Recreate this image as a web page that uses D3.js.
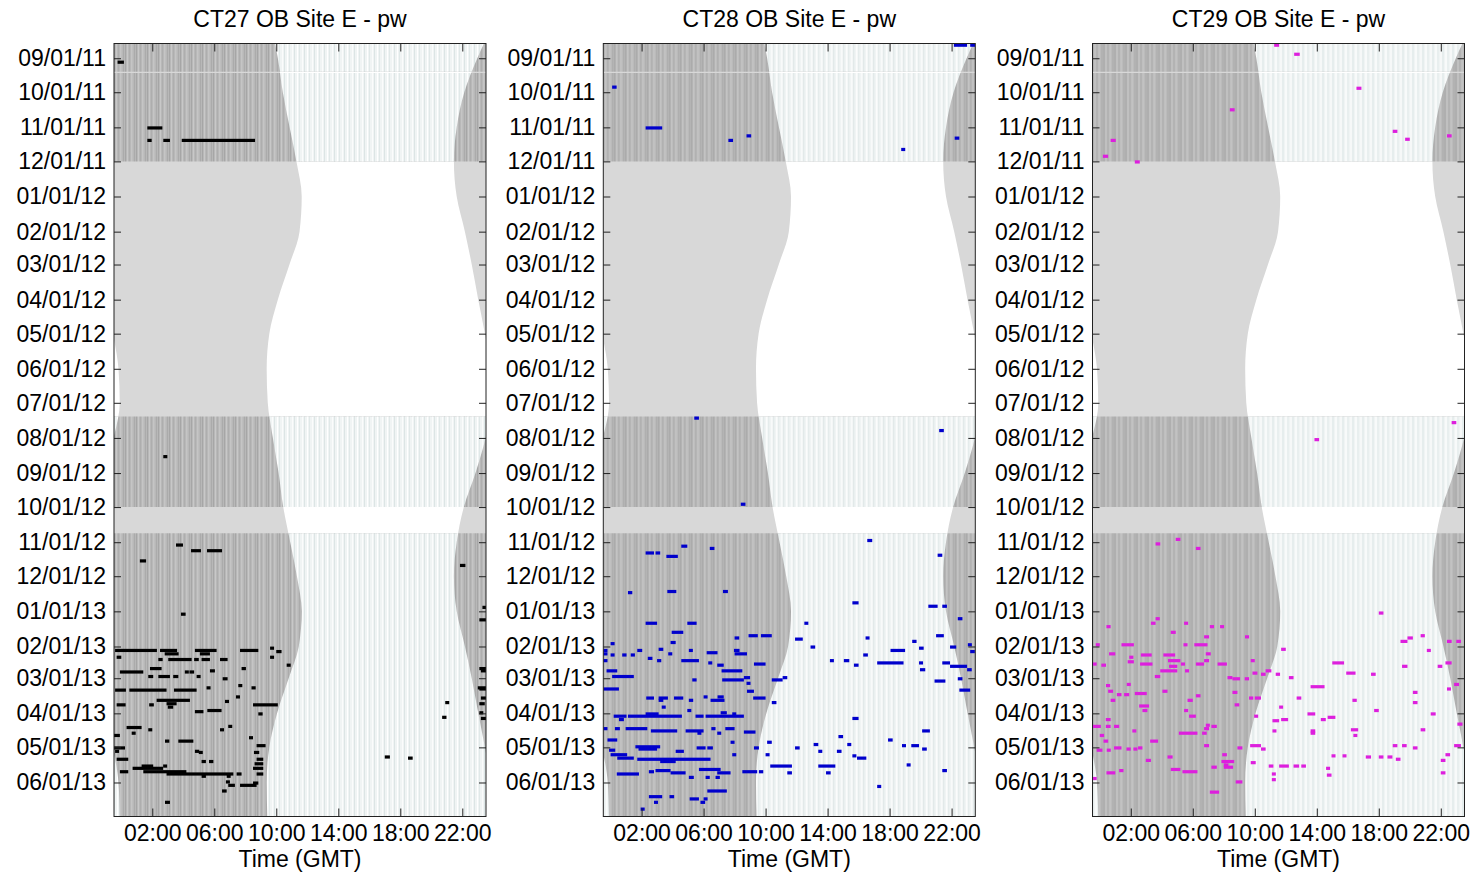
<!DOCTYPE html>
<html><head><meta charset="utf-8">
<script src="https://cdn.jsdelivr.net/npm/d3@7"></script>
<style>body{margin:0;background:#fff} text{font-family:"Liberation Sans",Arial,Helvetica,sans-serif}</style>
</head><body><svg id="c" width="1480" height="882"></svg>
<script>
// ---------------- data ----------------
const panelTitles = ["CT27 OB Site E - pw", "CT28 OB Site E - pw", "CT29 OB Site E - pw"];
const panelColors = ["#000000", "#0000cc", "#dd1fdd"];
const xTickHours = [2, 6, 10, 14, 18, 22];
const yTickDates = ["2011-09-01","2011-10-01","2011-11-01","2011-12-01","2012-01-01","2012-02-01","2012-03-01",
  "2012-04-01","2012-05-01","2012-06-01","2012-07-01","2012-08-01","2012-09-01","2012-10-01","2012-11-01",
  "2012-12-01","2013-01-01","2013-02-01","2013-03-01","2013-04-01","2013-05-01","2013-06-01"];
const effortPeriods = [["2011-08-19","2011-09-13"],["2011-09-14","2011-12-01"],["2012-07-13","2012-10-01"],["2012-10-24","2013-07-01"]];
// sunrise / sunset (hours GMT on the displayed axis)
const sunDates = ["2011-08-19","2011-09-01","2011-10-01","2011-11-01","2011-12-01","2012-01-01","2012-02-01","2012-03-01",
  "2012-04-01","2012-05-01","2012-06-01","2012-07-01","2012-08-01","2012-09-01","2012-10-01","2012-11-01","2012-12-01",
  "2013-01-01","2013-02-01","2013-03-01","2013-04-01","2013-05-01","2013-06-01","2013-07-01"];
const sunriseHours = [9.92,10.1,10.42,10.86,11.3,11.64,11.5,10.85,10.1,9.55,9.38,9.45,9.78,10.15,10.45,10.9,11.33,11.64,11.45,10.8,10.05,9.55,9.38,9.42];
const sunsetHours  = [23.4,22.97,22.13,21.64,21.46,21.64,22.17,22.61,23.03,23.46,23.82,23.9,23.5,22.85,22.1,21.64,21.46,21.64,22.17,22.61,23.03,23.46,23.82,23.9];

// detections: [date, start hour, end hour]
const ct27 = [
["2011-09-04",-0.24,0.17],["2011-11-01",1.68,2.65],["2011-11-12",1.68,1.96],["2011-11-12",2.71,3.14],["2011-11-12",3.9,8.63],
["2012-08-17",2.71,2.97],["2012-11-03",3.53,3.98],["2012-11-08",4.5,5.14],["2012-11-08",5.53,6.5],["2012-11-17",1.2,1.6],
["2012-11-21",21.85,22.2],["2012-12-28",23.3,23.53],["2013-01-03",3.85,4.15],["2013-01-08",23.1,23.53],
["2013-02-04",-0.4,2.3],["2013-02-04",2.5,3.6],["2013-02-04",4.75,6.15],["2013-02-04",7.66,8.84],["2013-02-02",9.6,9.85],
["2013-02-05",10.0,10.34],["2013-02-07",2.8,3.7],["2013-02-07",5.07,5.72],["2013-02-10",-0.3,0.0],["2013-02-10",9.6,9.85],
["2013-02-12",2.39,2.67],["2013-02-12",3.03,4.54],["2013-02-12",4.7,5.0],["2013-02-12",5.18,5.72],["2013-02-12",6.37,6.86],
["2013-02-17",10.67,10.9],["2013-02-20",1.85,2.6],["2013-02-20",7.76,8.04],["2013-02-22",5.72,6.04],
["2013-02-23",-0.09,1.42],["2013-02-23",4.1,4.3],["2013-02-23",4.4,4.7],
["2013-02-27",1.74,2.06],["2013-02-27",2.39,3.14],["2013-02-27",3.35,3.68],["2013-02-27",4.86,5.07],
["2013-03-01",6.54,6.86],["2013-03-07",7.55,7.76],["2013-03-09",5.5,5.76],["2013-03-09",8.4,8.67],
["2013-03-11",-0.4,0.3],["2013-03-11",0.52,2.92],["2013-03-11",3.4,4.86],["2013-03-17",7.4,7.6],["2013-03-20",2.28,4.43],
["2013-03-21",6.69,6.95],["2013-03-22",20.9,21.15],["2013-03-23",2.92,3.57],["2013-03-24",-0.3,0.28],["2013-03-24",1.8,2.1],
["2013-03-24",8.5,10.1],["2013-03-26",3.0,3.35],["2013-03-29",5.55,6.47],["2013-03-30",4.75,5.3],["2013-04-01",8.84,9.12],
["2013-04-04",20.7,20.98],["2013-04-12",6.9,7.1],["2013-04-13",0.34,1.31],["2013-04-15",6.37,6.62],["2013-04-15",1.74,1.96],
["2013-04-18",0.67,0.88],["2013-04-20",-0.47,-0.09],["2013-04-22",8.24,8.47],["2013-04-25",2.82,3.1],["2013-04-25",3.68,4.65],
["2013-04-29",8.73,9.31],["2013-05-01",-0.47,0.24],["2013-05-04",4.75,5.03],["2013-05-04",-0.4,-0.2],["2013-05-05",5.0,5.25],
["2013-05-05",8.56,8.9],["2013-05-09",17.0,17.33],["2013-05-10",18.5,18.8],["2013-05-11",-0.3,0.45],["2013-05-11",8.73,9.16],
["2013-05-13",5.18,5.46],["2013-05-13",5.66,5.94],["2013-05-15",8.6,9.16],["2013-05-17",1.31,2.06],["2013-05-17",2.7,2.92],
["2013-05-19",0.73,2.7],["2013-05-19",8.5,9.16],["2013-05-22",-0.09,0.45],["2013-05-22",1.42,4.2],
["2013-05-24",2.92,7.23],["2013-05-24",7.44,7.76],["2013-05-24",8.73,9.16],["2013-05-26",5.18,5.46],["2013-05-26",6.8,7.05],
["2013-05-31",6.75,6.95],["2013-06-01",8.5,8.84],["2013-06-03",6.9,7.33],["2013-06-03",7.66,8.73],["2013-06-08",6.5,6.8],
["2013-06-18",2.82,3.14],
["2013-02-20",23.1,23.53],["2013-02-22",23.2,23.53],["2013-03-09",23.0,23.53],["2013-03-10",23.1,23.53],["2013-03-18",23.2,23.53],
["2013-03-23",23.1,23.45],["2013-03-31",23.1,23.35],["2013-04-05",23.2,23.53]
];
const ct28 = [
["2011-08-20",22.15,23.0],["2011-08-20",23.2,23.53],["2011-09-26",0.1,0.39],["2011-11-01",2.26,3.33],["2011-11-08",8.77,9.07],
["2011-11-10",22.2,22.5],["2011-11-12",7.6,7.9],["2011-11-20",18.75,19.0],["2012-07-14",5.4,5.7],["2012-07-25",21.2,21.5],
["2012-09-28",8.4,8.7],
["2012-10-30",16.56,16.88],["2012-11-04",4.56,4.95],["2012-11-06",6.4,6.7],["2012-11-10",2.26,2.8],["2012-11-10",2.9,3.2],
["2012-11-12",21.1,21.4],["2012-11-13",3.6,4.34],["2012-12-14",3.66,4.24],["2012-12-14",7.25,7.57],["2012-12-15",1.12,1.4],
["2012-12-24",15.6,16.0],["2012-12-27",20.5,21.1],["2012-12-27",21.4,21.7],["2013-01-07",22.4,22.7],
["2013-01-11",2.26,3.0],["2013-01-11",4.95,5.55],["2013-01-11",12.5,12.75],["2013-01-19",3.94,4.69],
["2013-01-22",8.9,9.5],["2013-01-22",9.7,10.4],["2013-01-22",21.0,21.5],["2013-01-24",8.0,8.3],["2013-01-24",16.45,16.7],
["2013-01-25",11.9,12.4],["2013-01-27",19.46,19.74],["2013-01-28",3.87,4.2],["2013-01-29",0.0,0.26],["2013-01-30",23.05,23.3],
["2013-02-01",12.9,13.2],["2013-02-01",21.9,22.3],["2013-02-02",19.9,20.2],["2013-02-03",3.1,3.4],["2013-02-04",1.72,2.04],
["2013-02-04",-0.47,-0.2],["2013-02-04",5.05,5.27],["2013-02-04",18.06,19.0],["2013-02-04",7.96,8.32],["2013-02-05",23.2,23.5],
["2013-02-06",6.2,6.9],["2013-02-07",-0.47,-0.2],["2013-02-07",3.72,3.98],["2013-02-07",8.0,8.8],["2013-02-08",0.0,0.26],
["2013-02-08",0.75,1.03],["2013-02-08",1.3,1.57],["2013-02-08",16.3,16.6],["2013-02-11",2.4,2.7],["2013-02-13",3.0,3.27],
["2013-02-13",-0.47,-0.2],["2013-02-13",4.56,5.7],["2013-02-13",14.15,14.4],["2013-02-13",15.05,15.4],
["2013-02-15",17.2,18.9],["2013-02-15",19.9,20.1],["2013-02-15",21.4,21.9],["2013-02-15",6.3,6.56],["2013-02-16",9.25,10.0],
["2013-02-17",6.88,7.3],["2013-02-17",15.7,16.0],["2013-02-18",21.9,23.0],["2013-02-21",19.96,20.3],["2013-02-21",23.0,23.3],
["2013-02-22",-0.26,0.43],["2013-02-22",7.16,8.5],["2013-02-27",0.1,1.5],["2013-02-28",8.6,9.0],["2013-02-28",11.1,11.4],
["2013-03-01",22.4,22.7],["2013-03-02",7.2,8.6],["2013-03-02",5.27,5.55],["2013-03-02",10.4,11.1],["2013-03-03",20.9,21.6],
["2013-03-05",8.77,9.0],["2013-03-10",-0.47,0.54],["2013-03-11",22.5,23.2],["2013-03-12",8.8,9.25],["2013-03-17",6.0,6.24],
["2013-03-17",6.9,7.3],["2013-03-18",2.3,2.8],["2013-03-18",3.1,3.7],["2013-03-18",4.09,4.69],["2013-03-18",9.2,10.0],
["2013-03-20",5.05,5.33],["2013-03-20",6.45,7.35],["2013-03-20",3.1,3.4],["2013-03-22",10.4,10.7],["2013-03-26",3.3,3.5],
["2013-03-29",4.95,5.2],["2013-03-31",7.1,7.5],["2013-04-01",2.26,3.1],["2013-04-01",7.85,8.0],
["2013-04-03",0.2,1.03],["2013-04-03",1.12,4.6],["2013-04-03",5.48,6.0],["2013-04-03",6.13,8.6],["2013-04-05",15.6,16.0],
["2013-04-06",0.54,0.86],["2013-04-14",-0.47,-0.2],["2013-04-14",0.28,0.6],["2013-04-14",0.97,2.37],["2013-04-14",6.5,6.77],
["2013-04-14",7.4,8.0],["2013-04-16",2.6,4.3],["2013-04-16",4.84,6.0],["2013-04-16",20.1,20.6],["2013-04-17",8.6,9.35],
["2013-04-18",6.88,7.1],["2013-04-18",5.6,5.8],["2013-04-21",14.7,15.0],["2013-04-24",-0.2,0.43],["2013-04-24",17.9,18.2],
["2013-04-26",7.74,7.96],["2013-04-26",10.1,10.4],["2013-04-28",13.1,13.4],["2013-04-28",15.27,15.5],["2013-04-29",18.8,19.0],
["2013-04-29",19.4,19.9],["2013-04-30",1.6,3.2],["2013-05-01",5.55,6.13],["2013-05-01",6.24,6.6],["2013-05-01",9.25,9.57],
["2013-05-01",11.9,12.2],["2013-05-02",20.1,20.4],["2013-05-02",1.8,3.0],["2013-05-03",-0.1,0.3],["2013-05-04",14.6,14.9],
["2013-05-04",4.2,4.73],["2013-05-04",13.4,13.6],["2013-05-07",0.0,1.07],["2013-05-07",7.85,8.06],["2013-05-07",10.0,10.2],
["2013-05-08",15.6,15.85],["2013-05-10",0.43,1.5],["2013-05-10",15.9,16.5],["2013-05-11",1.72,6.45],["2013-05-13",3.2,4.2],
["2013-05-16",19.1,19.35],["2013-05-17",10.3,11.7],["2013-05-17",13.4,14.5],["2013-05-20",5.7,7.1],["2013-05-21",2.9,3.87],
["2013-05-21",21.4,21.7],["2013-05-22",2.47,2.8],["2013-05-22",8.5,9.46],["2013-05-22",9.57,9.85],["2013-05-23",3.87,4.84],
["2013-05-23",6.88,7.74],["2013-05-23",13.9,14.2],["2013-05-23",11.4,11.7],["2013-05-24",0.4,1.83],["2013-05-27",5.05,5.37],
["2013-05-27",6.13,6.4],["2013-05-27",6.77,7.05],["2013-06-04",17.2,17.46],["2013-06-08",6.24,7.5],["2013-06-13",2.47,3.33],
["2013-06-13",3.8,4.1],["2013-06-15",5.1,5.7],["2013-06-15",6.0,6.24],["2013-06-18",2.8,3.05],["2013-06-18",5.8,6.1],
["2013-06-24",1.94,2.2]
];
const ct29 = [
["2011-08-20",11.25,11.57],["2011-08-28",12.54,12.9],["2011-09-27",16.56,16.88],["2011-10-16",8.39,8.7],["2011-11-04",18.9,19.2],
["2011-11-08",22.4,22.7],["2011-11-11",19.7,20.0],["2011-11-12",0.7,1.03],["2011-11-26",0.2,0.54],["2011-12-01",2.26,2.58],
["2012-07-18",22.7,23.0],["2012-08-02",13.85,14.15],
["2012-10-29",4.9,5.2],["2012-11-02",3.6,3.9],["2012-11-06",6.2,6.5],["2013-01-02",18.0,18.3],["2013-01-07",3.6,3.87],
["2013-01-11",3.3,3.6],["2013-01-11",5.44,5.7],["2013-01-14",0.43,0.7],["2013-01-14",7.1,7.37],["2013-01-14",7.76,8.0],
["2013-01-19",4.58,4.9],["2013-01-22",20.7,20.97],["2013-01-23",6.73,7.05],["2013-01-23",9.37,9.63],["2013-01-24",19.85,20.2],
["2013-01-27",19.4,19.85],["2013-01-27",22.4,22.7],["2013-01-27",23.0,23.3],["2013-01-30",1.4,2.2],["2013-01-30",5.4,5.66],
["2013-01-30",6.1,6.95],["2013-01-30",-0.26,0.0],["2013-02-03",11.7,12.0],["2013-02-04",21.1,21.35],["2013-02-07",6.84,7.16],
["2013-02-07",0.6,1.0],["2013-02-08",2.65,3.35],["2013-02-08",4.1,4.86],["2013-02-10",1.9,2.17],["2013-02-13",4.4,5.2],
["2013-02-13",9.74,10.0],["2013-02-13",6.73,7.05],["2013-02-14",1.8,2.2],["2013-02-15",15.0,15.76],["2013-02-15",22.3,22.7],
["2013-02-16",-0.47,-0.2],["2013-02-16",2.6,3.4],["2013-02-16",5.23,5.5],["2013-02-16",6.2,6.73],["2013-02-16",7.6,8.2],
["2013-02-17",0.1,0.4],["2013-02-18",19.5,19.85],["2013-02-18",21.8,22.1],["2013-02-18",4.47,5.0],["2013-02-22",3.9,5.0],
["2013-02-22",5.5,5.76],["2013-02-22",10.7,11.07],["2013-02-24",9.85,10.17],["2013-02-24",15.9,16.5],["2013-02-25",10.4,10.7],
["2013-02-25",11.35,11.63],["2013-02-25",17.5,17.8],["2013-02-27",3.55,3.9],["2013-02-28",8.24,8.56],["2013-02-28",12.2,12.5],
["2013-03-01",8.56,9.05],["2013-03-01",9.35,9.63],["2013-03-06",1.74,2.0],["2013-03-06",22.86,23.18],["2013-03-07",0.4,0.67],
["2013-03-08",13.6,14.5],["2013-03-10",22.4,22.65],["2013-03-12",0.54,0.86],["2013-03-12",4.04,4.37],["2013-03-13",8.56,8.88],
["2013-03-13",20.2,20.5],["2013-03-14",2.26,3.03],["2013-03-15",1.1,1.4],["2013-03-15",1.57,1.9],["2013-03-16",6.2,6.5],
["2013-03-18",9.63,9.9],["2013-03-18",10.0,10.4],["2013-03-18",12.7,13.0],["2013-03-20",0.7,1.0],["2013-03-20",5.66,6.0],
["2013-03-20",16.3,16.58],["2013-03-22",20.2,20.5],["2013-03-24",8.7,9.0],["2013-03-25",2.54,3.18],["2013-03-26",11.57,11.8],
["2013-03-29",17.7,18.0],["2013-03-29",5.44,5.7],["2013-03-29",2.75,3.07],["2013-04-01",13.4,13.9],["2013-04-01",21.35,21.67],
["2013-04-03",5.76,6.2],["2013-04-03",9.96,10.2],["2013-04-04",14.7,15.2],["2013-04-06",0.39,0.7],["2013-04-06",11.7,12.15],
["2013-04-06",14.26,14.58],["2013-04-07",11.14,11.57],["2013-04-10",23.07,23.4],["2013-04-11",6.84,7.1],
["2013-04-12",-0.47,0.07],["2013-04-12",0.39,0.7],["2013-04-12",0.92,1.25],["2013-04-12",7.2,7.55],["2013-04-14",6.73,7.05],
["2013-04-15",16.2,16.67],["2013-04-15",20.7,21.0],["2013-04-16",2.1,2.3],["2013-04-16",11.14,11.35],["2013-04-16",13.6,13.9],
["2013-04-18",5.1,6.3],["2013-04-18",6.6,6.9],["2013-04-18",13.6,13.9],["2013-04-20",16.36,16.6],["2013-04-20",0.0,0.28],
["2013-04-25",0.24,0.54],["2013-04-25",3.25,3.76],["2013-04-29",6.73,7.05],["2013-04-29",9.7,10.4],["2013-04-29",18.9,19.2],
["2013-04-29",19.5,19.8],["2013-04-29",22.86,23.3],["2013-05-01",0.92,1.4],["2013-05-01",8.88,9.2],["2013-05-01",2.47,2.75],
["2013-05-01",20.2,20.5],["2013-05-02",1.72,2.0],["2013-05-02",2.17,2.43],["2013-05-02",10.4,10.7],["2013-05-03",-0.2,0.17],
["2013-05-03",0.45,0.7],["2013-05-07",7.9,8.2],["2013-05-07",22.3,22.6],["2013-05-08",14.95,15.2],["2013-05-08",15.66,15.9],
["2013-05-09",4.37,4.7],["2013-05-09",17.16,17.5],["2013-05-09",18.0,18.3],["2013-05-09",18.56,18.88],["2013-05-11",19.1,19.4],
["2013-05-12",2.97,3.3],["2013-05-12",22.0,22.3],["2013-05-13",7.85,8.67],["2013-05-14",9.74,10.06],["2013-05-16",8.0,8.3],
["2013-05-17",10.9,11.2],["2013-05-17",11.57,12.2],["2013-05-17",12.5,12.86],["2013-05-17",13.0,13.3],["2013-05-18",7.2,7.55],
["2013-05-18",8.0,8.6],["2013-05-19",14.6,14.8],["2013-05-20",4.58,5.2],["2013-05-21",1.25,1.53],["2013-05-22",5.33,6.3],
["2013-05-23",22.0,22.3],["2013-05-23",0.43,1.0],["2013-05-24",11.1,11.35],["2013-05-25",14.65,14.95],["2013-05-28",-0.47,-0.2],
["2013-05-29",11.1,11.35],["2013-05-31",8.77,9.2],["2013-06-09",7.1,7.7]
];
const panelData = [ct27, ct28, ct29];

// ---------------- drawing ----------------
const parse = d3.utcParse("%Y-%m-%d");
const svg = d3.select("#c");
const W = 372, H = 773, TOP = 43.5;
const FS = 23;
const lefts = [114, 603.3, 1092.5];
const x = d3.scaleLinear().domain([-0.47, 23.53]).range([0, W]);
const y = d3.scaleUtc().domain([parse("2011-08-19"), parse("2013-07-01")]).range([0, H]);
const fmt = d3.utcFormat("%m/%d/%y");

const defs = svg.append("defs");
defs.append("clipPath").attr("id", "plotClip").append("rect").attr("width", W).attr("height", H);
const ec = defs.append("clipPath").attr("id", "effortClip");
effortPeriods.forEach(p => {
  ec.append("rect").attr("x", 0).attr("width", W)
    .attr("y", y(parse(p[0]))).attr("height", y(parse(p[1])) - y(parse(p[0])));
});
function stripePattern(id, w, base, lines) {
  const p = defs.append("pattern").attr("id", id).attr("patternUnits", "userSpaceOnUse").attr("width", w).attr("height", 8);
  p.append("rect").attr("width", w).attr("height", 8).attr("fill", base);
  lines.forEach(l => p.append("rect").attr("x", l[0]).attr("width", l[1]).attr("height", 8).attr("fill", l[2]));
}
stripePattern("nightStripe", 11, "#b8b8b8", [[0,1,"#a6a6a6"],[2,1,"#c8c8c8"],[4,1,"#aeaeae"],[6,1.5,"#c5c5c5"],[9,1,"#ababab"]]);
stripePattern("dayStripe", 10, "#f0f4f4", [[0,1,"#dce5e5"],[3,1,"#ffffff"],[5,1,"#e1e9e9"],[8,1,"#fbfcfc"]]);

const sunRows = sunDates.map((d, i) => ({ date: parse(d), rise: sunriseHours[i], set: sunsetHours[i] }));
const dayArea = shift => d3.area().curve(d3.curveMonotoneY)
  .y(d => y(d.date)).x0(d => x(d.rise + shift)).x1(d => x(d.set + shift));

panelTitles.forEach((title, i) => {
  const g = svg.append("g").attr("transform", `translate(${lefts[i]},${TOP})`);
  const plot = g.append("g").attr("clip-path", "url(#plotClip)");
  plot.append("rect").attr("width", W).attr("height", H).attr("fill", "#d8d8d8");
  [0, -24].forEach(s => plot.append("path").datum(sunRows).attr("d", dayArea(s)).attr("fill", "#ffffff"));
  const eff = plot.append("g").attr("clip-path", "url(#effortClip)");
  eff.append("rect").attr("width", W).attr("height", H).attr("fill", "url(#nightStripe)");
  [0, -24].forEach(s => eff.append("path").datum(sunRows).attr("d", dayArea(s)).attr("fill", "url(#dayStripe)"));

  plot.append("g").selectAll("rect").data(panelData[i]).join("rect")
    .attr("x", d => x(d[1]))
    .attr("width", d => Math.max(x(d[2]) - x(d[1]), 4))
    .attr("y", d => y(d3.utcHour.offset(parse(d[0]), 12)) - 1.6)
    .attr("height", 3.2)
    .attr("fill", panelColors[i]);

  const yt = yTickDates.map(parse);
  const ax = [
    g.append("g").call(d3.axisLeft(y).tickValues(yt).tickFormat(fmt).tickSizeInner(-7).tickSizeOuter(0).tickPadding(8)),
    g.append("g").attr("transform", `translate(${W},0)`).call(d3.axisRight(y).tickValues(yt).tickFormat("").tickSizeInner(-7).tickSizeOuter(0)),
    g.append("g").call(d3.axisTop(x).tickValues(xTickHours).tickFormat("").tickSizeInner(-8).tickSizeOuter(0)),
    g.append("g").attr("transform", `translate(0,${H})`).call(d3.axisBottom(x).tickValues(xTickHours)
      .tickFormat(h => d3.format("02d")(h) + ":00").tickSizeInner(-8).tickSizeOuter(0).tickPadding(8))
  ];
  ax.forEach(a => {
    a.attr("font-size", FS).attr("font-family", '"Liberation Sans",Arial,sans-serif');
    a.select(".domain").remove();
    a.selectAll(".tick line").attr("stroke", "#222");
    a.selectAll("text").attr("fill", "#000");
  });
  g.append("rect").attr("width", W).attr("height", H).attr("fill", "none").attr("stroke", "#222").attr("stroke-width", 1);
  g.append("text").attr("x", W / 2).attr("y", 27 - TOP).attr("text-anchor", "middle").attr("font-size", FS).text(title);
  g.append("text").attr("x", W / 2).attr("y", 867 - TOP).attr("text-anchor", "middle").attr("font-size", FS).text("Time (GMT)");
});
</script></body></html>
